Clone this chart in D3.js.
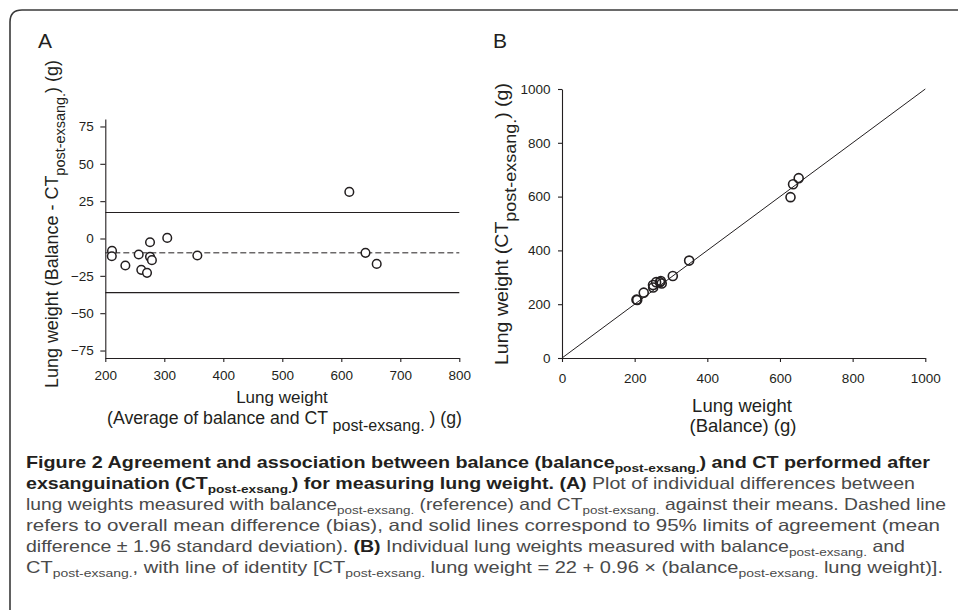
<!DOCTYPE html>
<html><head><meta charset="utf-8">
<script src="https://cdn.jsdelivr.net/npm/d3@7"></script>
<style>
html,body{margin:0;padding:0;background:#fff;}
svg{display:block;}
</style></head>
<body>
<svg id="chart" width="958" height="610"></svg>
<script>
// ---- Data ----
// Panel A: Bland-Altman
const aMeans = [211.4, 211, 234, 256.6, 261, 270.7, 275.8, 275.8, 279, 305, 356, 613.6, 641, 660];
const aDiffs = [-8.3, -11.9, -18.1, -10.7, -21, -23, -2.5, -12.3, -14.5, 0.4, -11.4, 31.2, -9.6, -17];
const aBias = -9.6;
const aLimits = [17.4, -36.2];
const aXTicks = [200, 300, 400, 500, 600, 700, 800];
const aYTicks = [-75, -50, -25, 0, 25, 50, 75];
// Panel B: balance vs CT
const bBalance = [207, 205, 225, 251, 250.5, 259, 274.5, 269.5, 272, 305, 350, 629, 636, 651.5];
const bCT      = [215.5, 217, 243, 262, 271.5, 282, 277, 282, 286, 305, 362, 598, 646, 668.5];
const bIdentity = [0, 1000];
const bTicks = [0, 200, 400, 600, 800, 1000];

const svg = d3.select("#chart");
const ink = "#231f20";
const plotFont = "'Liberation Sans', Arial, Helvetica, sans-serif";

// Border frame
const R = 12;
svg.append("path")
  .attr("d", `M10,640 L10,${10+R} Q10,10 ${10+R},10 L970,10`)
  .attr("fill","none").attr("stroke","#3a3a3a").attr("stroke-width",1.6);

// Panel letters
svg.append("text").attr("x",38).attr("y",48).text("A")
  .attr("font-family",plotFont).attr("font-size",21).attr("fill",ink);
svg.append("text").attr("x",493).attr("y",48).text("B")
  .attr("font-family",plotFont).attr("font-size",21).attr("fill",ink);

function styleAxis(g){
  g.selectAll("path.domain").attr("stroke",ink).attr("stroke-width",1.1);
  g.selectAll(".tick line").attr("stroke",ink).attr("stroke-width",1.1);
  g.selectAll(".tick text").attr("font-family",plotFont).attr("font-size",13.5).attr("fill",ink);
}

// ---------- Panel A ----------
const ax = d3.scaleLinear().domain([200,800]).range([105.3,459.3]);
const ay = d3.scaleLinear().domain([-80,80]).range([358,119]);
const gA = svg.append("g");

const axA = gA.append("g").attr("transform","translate(0,358)")
  .call(d3.axisBottom(ax).tickValues(aXTicks).tickSize(4).tickSizeOuter(0).tickPadding(8).tickFormat(d3.format("d")));
styleAxis(axA);
const ayA = gA.append("g").attr("transform","translate(105.3,0)")
  .call(d3.axisLeft(ay).tickValues(aYTicks).tickSize(5).tickSizeOuter(0).tickPadding(6.5).tickFormat(d3.format("d")));
styleAxis(ayA);

// limits of agreement and bias
gA.selectAll("line.lim").data(aLimits).enter().append("line")
  .attr("x1",ax(200)).attr("x2",ax(800))
  .attr("y1",d=>ay(d)).attr("y2",d=>ay(d))
  .attr("stroke",ink).attr("stroke-width",1.2);
gA.append("line")
  .attr("x1",ax(200)).attr("x2",ax(800))
  .attr("y1",ay(aBias)).attr("y2",ay(aBias))
  .attr("stroke",ink).attr("stroke-width",1).attr("stroke-dasharray","6,3");

gA.selectAll("circle").data(aMeans.map((m,i)=>({x:m,y:aDiffs[i]}))).enter().append("circle")
  .attr("cx",d=>ax(d.x)).attr("cy",d=>ay(d.y)).attr("r",4.3)
  .attr("fill","#fff").attr("stroke",ink).attr("stroke-width",1.5);

// Axis titles A
const aYT = gA.append("text")
  .attr("transform","translate(58,388) rotate(-90)")
  .attr("font-family",plotFont).attr("font-size",18).attr("fill",ink)
  .attr("textLength",328).attr("lengthAdjust","spacingAndGlyphs");
aYT.append("tspan").text("Lung weight (Balance - CT");
aYT.append("tspan").attr("font-size",14.5).attr("dy",7).text("post-exsang.");
aYT.append("tspan").attr("dy",-7).text(") (g)");

gA.append("text").attr("x",282).attr("y",403).attr("text-anchor","middle")
  .attr("font-family",plotFont).attr("font-size",17).attr("fill",ink).text("Lung weight");
const aXT = gA.append("text").attr("x",107).attr("y",423.5)
  .attr("font-family",plotFont).attr("font-size",17.5).attr("fill",ink)
  .attr("textLength",355).attr("lengthAdjust","spacingAndGlyphs");
aXT.append("tspan").text("(Average of balance and CT ");
aXT.append("tspan").attr("font-size",15.9).attr("dy",7).text("post-exsang.");
aXT.append("tspan").attr("dy",-7).text(" ) (g)");

// ---------- Panel B ----------
const bx = d3.scaleLinear().domain([0,1000]).range([562,925.3]);
const by = d3.scaleLinear().domain([0,1000]).range([358,89]);
const gB = svg.append("g");

const axB = gB.append("g").attr("transform","translate(0,358)")
  .call(d3.axisBottom(bx).tickValues(bTicks).tickSize(4).tickSizeOuter(0).tickPadding(11).tickFormat(d3.format("d")));
styleAxis(axB);
const ayB = gB.append("g").attr("transform","translate(562,0)")
  .call(d3.axisLeft(by).tickValues(bTicks).tickSize(4).tickSizeOuter(0).tickPadding(7.5).tickFormat(d3.format("d")));
styleAxis(ayB);

gB.append("line")
  .attr("x1",bx(bIdentity[0])).attr("y1",by(bIdentity[0]))
  .attr("x2",bx(bIdentity[1])).attr("y2",by(bIdentity[1]))
  .attr("stroke",ink).attr("stroke-width",1);

gB.selectAll("circle").data(bBalance.map((b,i)=>({x:b,y:bCT[i]}))).enter().append("circle")
  .attr("cx",d=>bx(d.x)).attr("cy",d=>by(d.y)).attr("r",4.5)
  .attr("fill","none").attr("stroke",ink).attr("stroke-width",1.6);

const bYT = gB.append("text")
  .attr("transform","translate(508,365) rotate(-90)")
  .attr("font-family",plotFont).attr("font-size",18.5).attr("fill",ink)
  .attr("textLength",282).attr("lengthAdjust","spacingAndGlyphs");
bYT.append("tspan").text("Lung weight (CT");
bYT.append("tspan").attr("font-size",17).attr("dy",8).text("post-exsang.");
bYT.append("tspan").attr("dy",-8).text(") (g)");

gB.append("text").attr("x",742).attr("y",411.5).attr("text-anchor","middle")
  .attr("font-family",plotFont).attr("font-size",18.5).attr("fill",ink).text("Lung weight");
gB.append("text").attr("x",743).attr("y",432).attr("text-anchor","middle")
  .attr("font-family",plotFont).attr("font-size",18.5).attr("fill",ink).text("(Balance) (g)");

// ---------- Caption ----------
const capFont = "'Liberation Sans Narrow','Liberation Sans',Arial,sans-serif";
const capLines = [
  {y:468, end:930, parts:[
    {t:"Figure 2 Agreement and association between balance (balance",b:1},
    {t:"post-exsang.",b:1,s:1},
    {t:") and CT performed after",b:1}]},
  {y:489, end:915, parts:[
    {t:"exsanguination (CT",b:1},{t:"post-exsang.",b:1,s:1},
    {t:") for measuring lung weight. (A)",b:1},
    {t:" Plot of individual differences between"}]},
  {y:510, end:946, parts:[
    {t:"lung weights measured with balance"},{t:"post-exsang.",s:1},
    {t:" (reference) and CT"},{t:"post-exsang.",s:1},
    {t:" against their means. Dashed line"}]},
  {y:531, end:940, parts:[
    {t:"refers to overall mean difference (bias), and solid lines correspond to 95% limits of agreement (mean"}]},
  {y:552, end:905, parts:[
    {t:"difference \u00b1 1.96 standard deviation). "},{t:"(B)",b:1},
    {t:" Individual lung weights measured with balance"},{t:"post-exsang.",s:1},{t:" and"}]},
  {y:573, end:943, parts:[
    {t:"CT"},{t:"post-exsang.",s:1},{t:", with line of identity [CT"},{t:"post-exsang.",s:1},
    {t:" lung weight = 22 + 0.96 \u00d7 (balance"},{t:"post-exsang.",s:1},{t:" lung weight)]."}]}
];
capLines.forEach(L=>{
  const t = svg.append("text").attr("x",26).attr("y",L.y)
    .attr("font-family",capFont).attr("font-size",16.5)
    .attr("textLength",L.end-26).attr("lengthAdjust","spacingAndGlyphs");
  let sub=false;
  L.parts.forEach(p=>{
    const ts = t.append("tspan").text(p.t)
      .attr("font-weight",p.b?"bold":"normal")
      .attr("fill",p.b?"#231f20":"#4a4a4a");
    if(p.s){ ts.attr("font-size",11.5).attr("dy",3.5); sub=true; }
    else if(sub){ ts.attr("dy",-3.5); sub=false; }
  });
});
</script>
</body></html>
